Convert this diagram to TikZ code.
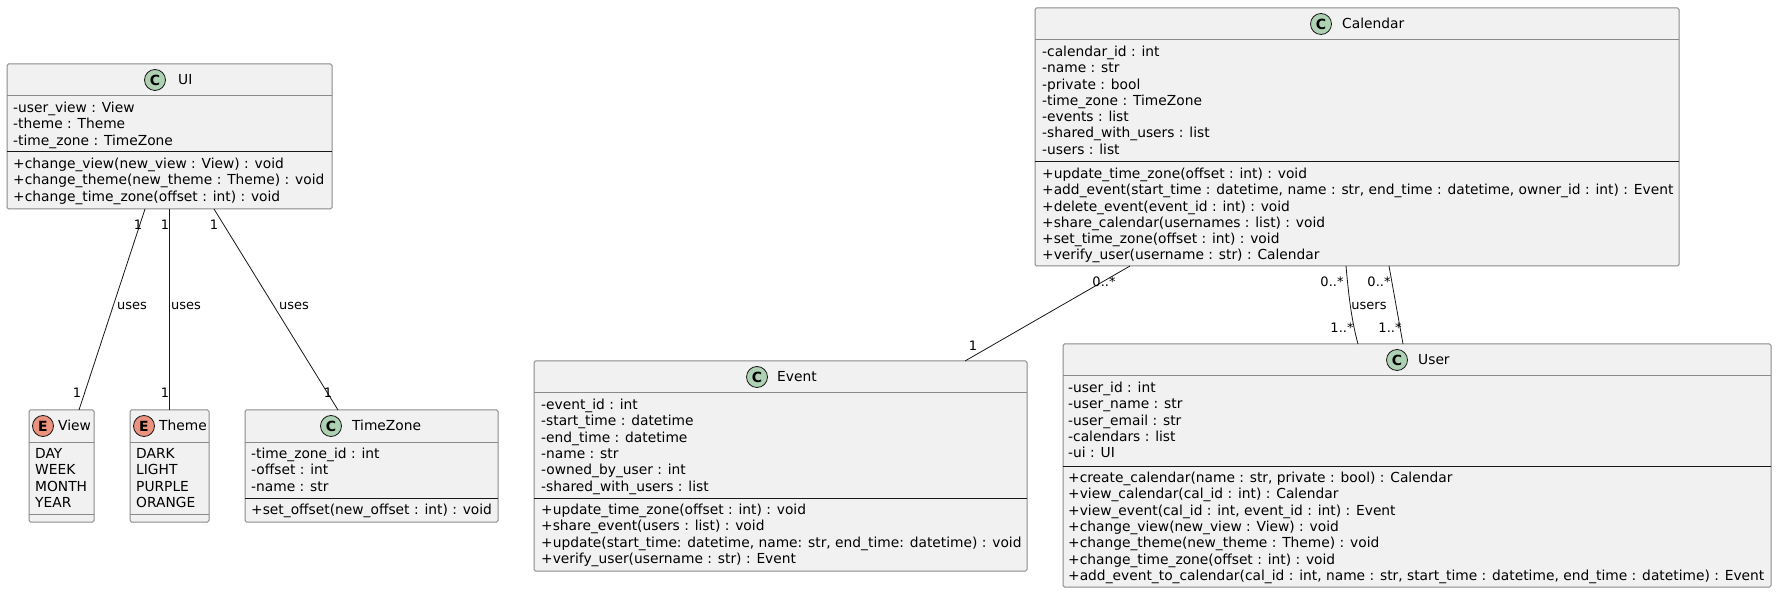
\documentclass[tikz,border=0pt]{standalone}
\usepackage{fontspec}
\setmainfont{DejaVu Sans}
\usetikzlibrary{calc}
\definecolor{boxfill}{HTML}{F1F1F1}
\definecolor{boxline}{HTML}{8A8A8A}
\definecolor{ink}{HTML}{181818}
\definecolor{cgreen}{HTML}{ADD1B2}
\definecolor{eorange}{HTML}{EB937F}
\newcommand\memlines[4]{%
  \foreach \txt [count=\i] in {#4} {\node[mem] (#1\i) at (#2,{#3+16.3*(\i-1)}) {\txt};}}
\begin{document}
\begin{tikzpicture}[x=1pt,y=-1pt,
  classbox/.style={draw=boxline,fill=boxfill,line width=1pt,rectangle,inner sep=0pt,outer sep=0pt,anchor=north west,rounded corners=1.5pt},
  mem/.style={anchor=base west,inner sep=0pt,font=\fontsize{13.8}{16}\selectfont,text=black},
  ttl/.style={anchor=base west,inner sep=0pt,font=\fontsize{13.8}{16}\selectfont,text=black},
  badge/.style={circle,draw=ink,line width=0.8pt,minimum size=21pt,inner sep=0pt,font=\bfseries\fontsize{14}{16}\selectfont},
  lbl/.style={inner sep=0pt,font=\fontsize{13}{15}\selectfont,text=black},
  conn/.style={draw=ink,line width=0.8pt},
  hsep/.style={draw=boxline,line width=1pt},
  msep/.style={draw=ink,line width=1pt}]
\useasboundingbox[fill=white] (0,0) rectangle (1778,593);

% ---------- UI ----------
\node[classbox,minimum width=325pt,minimum height=145pt] (ui) at (7,64) {};
\node[badge,fill=cgreen] (uic) at (155,80) {C};
\node[ttl] (uit) at (178,85) {UI};
\draw[hsep] ($(ui.north west)+(0,32)$) -- ($(ui.north east)+(0,32)$);
\memlines{uia}{13}{112.5}{{-user\_view : View},{-theme : Theme},{-time\_zone : TimeZone}}
\draw[msep] ($(ui.north west)+(0,88)$) -- ($(ui.north east)+(0,88)$);
\memlines{uim}{13}{168.5}{{+change\_view(new\_view : View) : void},{+change\_theme(new\_theme : Theme) : void},{+change\_time\_zone(offset : int) : void}}

% ---------- View ----------
\node[classbox,minimum width=65pt,minimum height=112pt] (view) at (29,410) {};
\node[badge,fill=eorange] (viewc) at (43,426) {E};
\node[ttl] (viewt) at (58,431) {View};
\draw[hsep] ($(view.north west)+(0,32)$) -- ($(view.north east)+(0,32)$);
\memlines{viewa}{35}{458.5}{DAY,WEEK,MONTH,YEAR}
\draw[hsep] ($(view.north west)+(0,104)$) -- ($(view.north east)+(0,104)$);

% ---------- Theme ----------
\node[classbox,minimum width=79pt,minimum height=112pt] (theme) at (130,410) {};
\node[badge,fill=eorange] (themec) at (144,426) {E};
\node[ttl] (themet) at (159,431) {Theme};
\draw[hsep] ($(theme.north west)+(0,32)$) -- ($(theme.north east)+(0,32)$);
\memlines{themea}{136}{458.5}{DARK,LIGHT,PURPLE,ORANGE}
\draw[hsep] ($(theme.north west)+(0,104)$) -- ($(theme.north east)+(0,104)$);

% ---------- TimeZone ----------
\node[classbox,minimum width=253pt,minimum height=112pt] (tz) at (245,410) {};
\node[badge,fill=cgreen] (tzc) at (331,426) {C};
\node[ttl] (tzt) at (352,431) {TimeZone};
\draw[hsep] ($(tz.north west)+(0,32)$) -- ($(tz.north east)+(0,32)$);
\memlines{tza}{251}{458.5}{{-time\_zone\_id : int},{-offset : int},{-name : str}}
\draw[msep] ($(tz.north west)+(0,88)$) -- ($(tz.north east)+(0,88)$);
\memlines{tzm}{251}{514.5}{{+set\_offset(new\_offset : int) : void}}

% ---------- Event ----------
\node[classbox,minimum width=493pt,minimum height=210pt] (event) at (534,361) {};
\node[badge,fill=cgreen] (eventc) at (757,377) {C};
\node[ttl] (eventt) at (777,382) {Event};
\draw[hsep] ($(event.north west)+(0,32)$) -- ($(event.north east)+(0,32)$);
\memlines{eventa}{541}{409.5}{{-event\_id : int},{-start\_time : datetime},{-end\_time : datetime},{-name : str},{-owned\_by\_user : int},{-shared\_with\_users : list}}
\draw[msep] ($(event.north west)+(0,137)$) -- ($(event.north east)+(0,137)$);
\memlines{eventm}{541}{514.5}{{+update\_time\_zone(offset : int) : void},{+share\_event(users : list) : void},{+update(start\_time: datetime, name: str, end\_time: datetime) : void},{+verify\_user(username : str) : Event}}

% ---------- Calendar ----------
\node[classbox,minimum width=644pt,minimum height=258pt] (cal) at (1035,8) {};
\node[badge,fill=cgreen] (calc) at (1321,24) {C};
\node[ttl] (calt) at (1342,29) {Calendar};
\draw[hsep] ($(cal.north west)+(0,32)$) -- ($(cal.north east)+(0,32)$);
\memlines{cala}{1042}{56.5}{{-calendar\_id : int},{-name : str},{-private : bool},{-time\_zone : TimeZone},{-events : list},{-shared\_with\_users : list},{-users : list}}
\draw[msep] ($(cal.north west)+(0,154)$) -- ($(cal.north east)+(0,154)$);
\memlines{calm}{1042}{178.5}{{+update\_time\_zone(offset : int) : void},{+add\_event(start\_time : datetime, name : str, end\_time : datetime, owner\_id : int) : Event},{+delete\_event(event\_id : int) : void},{+share\_calendar(usernames : list) : void},{+set\_time\_zone(offset : int) : void},{+verify\_user(username : str) : Calendar}}

% ---------- User ----------
\node[classbox,minimum width=708pt,minimum height=243pt] (user) at (1063,344) {};
\node[badge,fill=cgreen] (userc) at (1397,360) {C};
\node[ttl] (usert) at (1418,365) {User};
\draw[hsep] ($(user.north west)+(0,32)$) -- ($(user.north east)+(0,32)$);
\memlines{usera}{1068}{392.5}{{-user\_id : int},{-user\_name : str},{-user\_email : str},{-calendars : list},{-ui : UI}}
\draw[msep] ($(user.north west)+(0,122)$) -- ($(user.north east)+(0,122)$);
\memlines{userm}{1068}{482.5}{{+create\_calendar(name : str, private : bool) : Calendar},{+view\_calendar(cal\_id : int) : Calendar},{+view\_event(cal\_id : int, event\_id : int) : Event},{+change\_view(new\_view : View) : void},{+change\_theme(new\_theme : Theme) : void},{+change\_time\_zone(offset : int) : void},{+add\_event\_to\_calendar(cal\_id : int, name : str, start\_time : datetime, end\_time : datetime) : Event}}

% ---------- connectors ----------
\draw[conn] ($(ui.south west)+(138,0)$) -- ($(view.north west)+(50,0)$);
\draw[conn] ($(ui.south west)+(162,0)$) -- ($(theme.north west)+(39,0)$);
\draw[conn] ($(ui.south west)+(207,0)$) -- ($(tz.north west)+(93,0)$);
\draw[conn] ($(cal.south west)+(95,0)$) -- ($(event.north west)+(431,0)$);
\draw[conn] ($(cal.south west)+(311,0)$) .. controls (1349,300) and (1352,322) .. ($(user.north west)+(295,0)$);
\draw[conn] ($(cal.south west)+(354,0)$) -- ($(user.north west)+(340,0)$);

% ---------- labels ----------
\node[lbl] (l1) at (138,225) {1};
\node[lbl] (l2) at (77,393) {1};
\node[lbl] (l3) at (132,306) {uses};
\node[lbl] (l4) at (165,225) {1};
\node[lbl] (l5) at (165,393) {1};
\node[lbl] (l6) at (186,306) {uses};
\node[lbl] (l7) at (214,225) {1};
\node[lbl] (l8) at (328,393) {1};
\node[lbl] (l9) at (294,306) {uses};
\node[lbl] (l10) at (1104,282) {0..*};
\node[lbl] (l11) at (973,346) {1};
\node[lbl] (l12) at (1332,282) {0..*};
\node[lbl] (l13) at (1342,328) {1..*};
\node[lbl] (l14) at (1369,306) {users};
\node[lbl] (l15) at (1379,282) {0..*};
\node[lbl] (l16) at (1390,328) {1..*};
\end{tikzpicture}
\end{document}
